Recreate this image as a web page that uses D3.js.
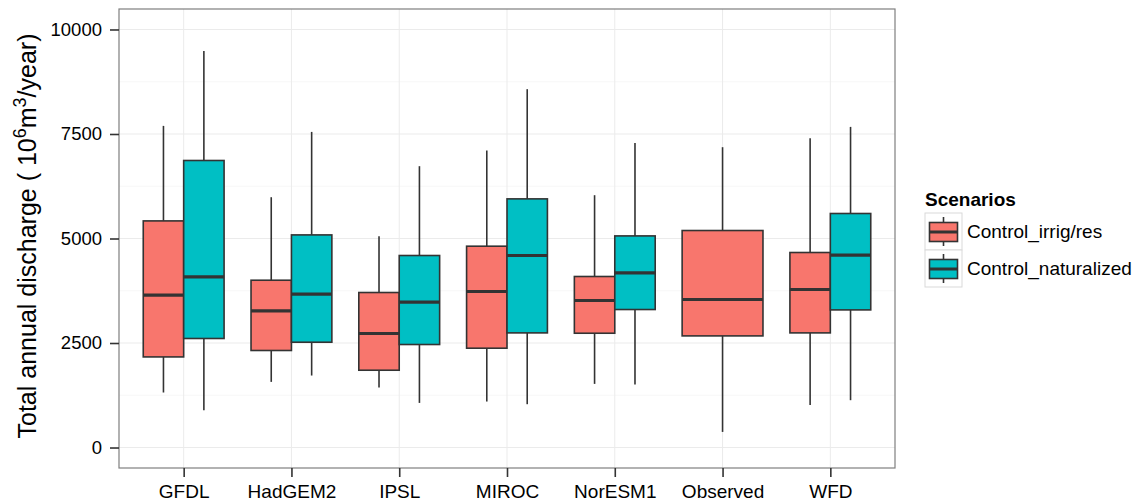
<!DOCTYPE html>
<html>
<head>
<meta charset="utf-8">
<script src="https://cdn.jsdelivr.net/npm/d3@7"></script>
<style>
  html, body { margin: 0; padding: 0; background: #ffffff; }
  svg { display: block; font-family: "Liberation Sans", Arial, sans-serif; }
</style>
</head>
<body>
<svg id="chart" width="1144" height="504"></svg>
<script>
// Models / data sources along the x axis
const categories = ["GFDL", "HadGEM2", "IPSL", "MIROC", "NorESM1", "Observed", "WFD"];
const scenarios = ["Control_irrig/res", "Control_naturalized"];
const scenarioColors = ["#F8766D", "#00BFC4"];

// Box statistics, 10^6 m3/year (lower whisker, Q1, median, Q3, upper whisker)
const irrigLow  = [1316, 1570, 1435, 1100, 1522,  373, 1019];
const irrigQ1   = [2167, 2321, 1849, 2376, 2734, 2670, 2742];
const irrigMed  = [3644, 3268, 2727, 3732, 3517, 3541, 3780];
const irrigQ3   = [5421, 4002, 3708, 4816, 4091, 5191, 4665];
const irrigHigh = [7694, 5988, 5055, 7105, 6036, 7184, 7400];

const natLow  = [ 892, 1722, 1067, 1036, 1507, null, 1132];
const natQ1   = [2608, 2519, 2464, 2742, 3301, null, 3292];
const natMed  = [4081, 3667, 3476, 4593, 4177, null, 4600];
const natQ3   = [6866, 5086, 4593, 5948, 5062, null, 5598];
const natHigh = [9488, 7550, 6730, 8572, 7287, null, 7670];

const yTicks = [0, 2500, 5000, 7500, 10000];
const yMinorTicks = [1250, 3750, 6250, 8750];

// Assemble one record per box
const boxes = [];
categories.forEach((c, i) => {
  const series = [
    [irrigLow, irrigQ1, irrigMed, irrigQ3, irrigHigh],
    [natLow, natQ1, natMed, natQ3, natHigh]
  ];
  const present = series.map(s => s[2][i] != null);
  const nPresent = present.filter(Boolean).length;
  let slot = 0;
  series.forEach((s, k) => {
    if (!present[k]) return;
    boxes.push({
      category: c, scenario: k, slot: slot++, nSlots: nPresent,
      low: s[0][i], q1: s[1][i], med: s[2][i], q3: s[3][i], high: s[4][i]
    });
  });
});

const svg = d3.select("#chart");
const panel = { left: 119, right: 895, top: 9, bottom: 468 };

const x = d3.scalePoint().domain(categories).range([panel.left, panel.right]).padding(0.6);
const y = d3.scaleLinear().domain([-490, 10490]).range([panel.bottom, panel.top]);
const step = x.step();
const dodge = 0.75 * step;

// Panel background and grid
svg.append("rect")
  .attr("x", panel.left).attr("y", panel.top)
  .attr("width", panel.right - panel.left).attr("height", panel.bottom - panel.top)
  .attr("fill", "#ffffff");

const grid = svg.append("g");
grid.selectAll("line.minor").data(yMinorTicks).join("line")
  .attr("x1", panel.left).attr("x2", panel.right)
  .attr("y1", d => y(d)).attr("y2", d => y(d))
  .attr("stroke", "#F7F7F7").attr("stroke-width", 1);
grid.selectAll("line.majory").data(yTicks).join("line")
  .attr("x1", panel.left).attr("x2", panel.right)
  .attr("y1", d => y(d)).attr("y2", d => y(d))
  .attr("stroke", "#EBEBEB").attr("stroke-width", 1);
grid.selectAll("line.majorx").data(categories).join("line")
  .attr("x1", d => x(d)).attr("x2", d => x(d))
  .attr("y1", panel.top).attr("y2", panel.bottom)
  .attr("stroke", "#EBEBEB").attr("stroke-width", 1);

// Boxes
const lineColor = "#333333";
const gBoxes = svg.append("g");
const bw = b => dodge / b.nSlots;
const bx = b => x(b.category) - dodge / 2 + b.slot * bw(b);
const bc = b => bx(b) + bw(b) / 2;

const g = gBoxes.selectAll("g.box").data(boxes).join("g");
g.append("line")
  .attr("x1", bc).attr("x2", bc)
  .attr("y1", b => y(b.q3)).attr("y2", b => y(b.high))
  .attr("stroke", lineColor).attr("stroke-width", 1.6);
g.append("line")
  .attr("x1", bc).attr("x2", bc)
  .attr("y1", b => y(b.q1)).attr("y2", b => y(b.low))
  .attr("stroke", lineColor).attr("stroke-width", 1.6);
g.append("rect")
  .attr("x", bx).attr("width", bw)
  .attr("y", b => y(b.q3)).attr("height", b => y(b.q1) - y(b.q3))
  .attr("fill", b => scenarioColors[b.scenario])
  .attr("stroke", lineColor).attr("stroke-width", 1.6);
g.append("line")
  .attr("x1", bx).attr("x2", b => bx(b) + bw(b))
  .attr("y1", b => y(b.med)).attr("y2", b => y(b.med))
  .attr("stroke", lineColor).attr("stroke-width", 3.2);

// Panel border
svg.append("rect")
  .attr("x", panel.left).attr("y", panel.top)
  .attr("width", panel.right - panel.left).attr("height", panel.bottom - panel.top)
  .attr("fill", "none").attr("stroke", "#7F7F7F").attr("stroke-width", 1.2);

// Y axis
const yAxis = svg.append("g").attr("transform", `translate(${panel.left},0)`)
  .call(d3.axisLeft(y).tickValues(yTicks).tickSize(9).tickPadding(8).tickFormat(d3.format("d")));
yAxis.select(".domain").remove();
yAxis.selectAll(".tick line").attr("stroke", lineColor).attr("stroke-width", 1.6);
yAxis.selectAll(".tick text").attr("font-size", 18.5).attr("fill", "#000")
  .attr("font-family", "Liberation Sans, Arial, sans-serif");

// X axis
const xAxis = svg.append("g").attr("transform", `translate(0,${panel.bottom})`)
  .call(d3.axisBottom(x).tickSize(9).tickPadding(8));
xAxis.select(".domain").remove();
xAxis.selectAll(".tick line").attr("stroke", lineColor).attr("stroke-width", 1.6);
xAxis.selectAll(".tick text").attr("font-size", 19).attr("fill", "#000")
  .attr("font-family", "Liberation Sans, Arial, sans-serif");

// Y axis title with superscripts
const yTitle = svg.append("text")
  .attr("transform", `translate(36,236) rotate(-90)`)
  .attr("text-anchor", "middle")
  .attr("font-size", 25).attr("fill", "#000");
yTitle.append("tspan").text("Total annual discharge ( 10");
yTitle.append("tspan").attr("font-size", 18).attr("dy", -10).text("6");
yTitle.append("tspan").attr("dy", 10).text("m");
yTitle.append("tspan").attr("font-size", 18).attr("dy", -10).text("3");
yTitle.append("tspan").attr("dy", 10).text("/year)");

// Legend
const legend = svg.append("g").attr("transform", "translate(925,0)");
legend.append("text").attr("x", 0).attr("y", 206)
  .attr("font-size", 19).attr("font-weight", "bold").attr("fill", "#000")
  .text("Scenarios");
const keySize = 37;
const keys = legend.selectAll("g.key").data(scenarios).join("g")
  .attr("transform", (d, i) => `translate(0,${213 + i * keySize})`);
keys.append("rect").attr("width", keySize).attr("height", keySize)
  .attr("fill", "#ffffff").attr("stroke", "#D9D9D9").attr("stroke-width", 1);
keys.append("line").attr("x1", keySize / 2).attr("x2", keySize / 2)
  .attr("y1", 4).attr("y2", keySize - 4)
  .attr("stroke", lineColor).attr("stroke-width", 1.6);
keys.append("rect").attr("x", 4.5).attr("y", 9.5)
  .attr("width", keySize - 9).attr("height", 19)
  .attr("fill", (d, i) => scenarioColors[i])
  .attr("stroke", lineColor).attr("stroke-width", 1.6);
keys.append("line").attr("x1", 4.5).attr("x2", keySize - 4.5)
  .attr("y1", 19).attr("y2", 19)
  .attr("stroke", lineColor).attr("stroke-width", 3);
keys.append("text").attr("x", keySize + 5).attr("y", keySize / 2)
  .attr("dy", "0.36em").attr("font-size", 19).attr("fill", "#000")
  .text(d => d);
</script>
</body>
</html>
